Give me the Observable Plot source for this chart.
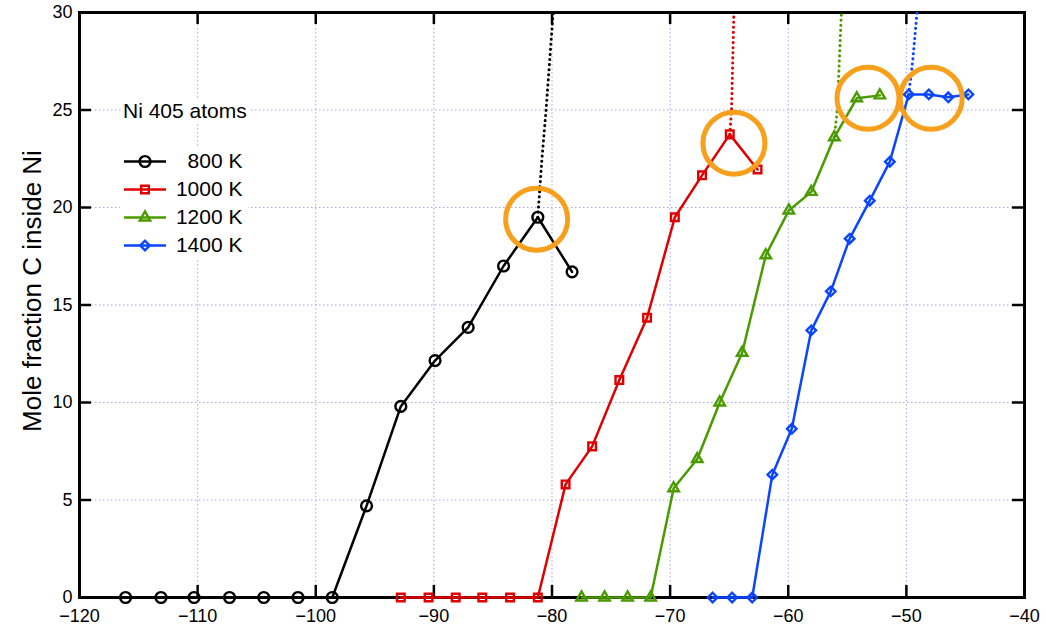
<!DOCTYPE html>
<html><head><meta charset="utf-8">
<script src="https://cdn.jsdelivr.net/npm/d3@7"></script>
<script src="https://cdn.jsdelivr.net/npm/@observablehq/plot@0.6"></script>
<style>
html,body{margin:0;padding:0;background:#fff;}
#wrap{position:relative;width:1046px;height:628px;font-family:"Liberation Sans",Arial,sans-serif;overflow:hidden;}
#legendTitle{position:absolute;left:121px;top:99px;font-size:21px;line-height:24px;color:#000;background:#fff;padding:0 2px;}
#legend{position:absolute;left:120px;top:147px;line-height:0;}
</style></head><body>
<div id="wrap"><div id="chart"></div><div id="legendTitle"></div><div id="legend"></div></div>
<script>
// ---- data ----
const seriesNames = ["800 K", "1000 K", "1200 K", "1400 K"];
const seriesColors = ["#000000", "#e00000", "#4a9b00", "#0a46ff"];
const seriesSymbols = ["circle", "square", "triangle2", "diamond2"];
const legendTitle = "Ni 405 atoms";
const yLabel = "Mole fraction C inside Ni";

const x800 = [-116.1, -113.1, -110.3, -107.3, -104.4, -101.5, -98.6, -95.7, -92.8, -89.9, -87.1, -84.1, -81.2, -78.3];
const y800 = [0, 0, 0, 0, 0, 0, 0, 4.7, 9.8, 12.15, 13.85, 17.0, 19.5, 16.7];
const x1000 = [-92.8, -90.45, -88.15, -85.9, -83.55, -81.2, -78.85, -76.6, -74.3, -71.95, -69.6, -67.3, -64.95, -62.6];
const y1000 = [0, 0, 0, 0, 0, 0, 5.8, 7.75, 11.15, 14.35, 19.5, 21.65, 23.75, 21.95];
const x1200 = [-77.5, -75.55, -73.6, -71.65, -69.7, -67.7, -65.8, -63.9, -61.9, -59.95, -58.05, -56.1, -54.2, -52.25];
const y1200 = [0, 0, 0, 0, 5.6, 7.1, 10.0, 12.55, 17.55, 19.85, 20.8, 23.6, 25.6, 25.75];
const x1400 = [-66.4, -64.75, -63.05, -61.35, -59.7, -58.05, -56.4, -54.8, -53.1, -51.4, -49.8, -48.1, -46.45, -44.75];
const y1400 = [0, 0, 0, 6.3, 8.65, 13.7, 15.7, 18.4, 20.35, 22.35, 25.8, 25.8, 25.65, 25.8];

// dotted extrapolations
const dx800 = [-81.2, -80.85, -80.5, -79.9];
const dy800 = [19.5, 22.5, 25, 30];
const dx1000 = [-64.95, -64.8, -64.6];
const dy1000 = [23.75, 25, 30];
const dx1200 = [-56.1, -55.85, -55.5];
const dy1200 = [23.6, 25, 30];
const dx1400 = [-49.8, -49.45, -49.1];
const dy1400 = [25.8, 27.6, 30];

// orange highlight circles
const circX = [-81.3, -64.6, -53.25, -47.9];
const circY = [19.4, 23.3, 25.6, 25.6];

const xTicks = [-120, -110, -100, -90, -80, -70, -60, -50, -40];
const yTicks = [0, 5, 10, 15, 20, 25, 30];

// ---- build tables ----
const xs = [x800, x1000, x1200, x1400], ys = [y800, y1000, y1200, y1400];
const dxs = [dx800, dx1000, dx1200, dx1400], dys = [dy800, dy1000, dy1200, dy1400];
const rows = [], dotRows = [];
seriesNames.forEach((s, i) => {
  xs[i].forEach((x, j) => rows.push({series: s, x, y: ys[i][j]}));
  dxs[i].forEach((x, j) => dotRows.push({series: s, x, y: dys[i][j]}));
});
const circles = circX.map((x, i) => ({x, y: circY[i]}));
const markerR = [5.4, 4.3, 5.0, 4.3];

const W = 1046, H = 628, ML = 79, MR = 22, MT = 12, MB = 31;
const fw = W - ML - MR, fh = H - MT - MB, tk = 12;
const font = "Liberation Sans, Arial, sans-serif";
const grid = {stroke: "#8c8cff", strokeOpacity: 0.8, strokeWidth: 1, strokeDasharray: "1.5,2.5"};
const innerX = xTicks.slice(1, -1), innerY = yTicks.slice(1, -1);

const chart = Plot.plot({
  width: W, height: H,
  marginLeft: ML, marginRight: MR, marginTop: MT, marginBottom: MB,
  x: {domain: [-120, -40]},
  y: {domain: [0, 30]},
  color: {domain: seriesNames, range: seriesColors},
  symbol: {domain: seriesNames, range: seriesSymbols},
  style: {fontFamily: font, color: "#000", background: "#fff", overflow: "visible"},
  marks: [
    Plot.gridX({ticks: innerX, ...grid}),
    Plot.gridY({ticks: innerY, ...grid}),
    Plot.frame({stroke: "#000", strokeWidth: 3}),
    Plot.tickX(innerX, {x: d => d, insetTop: fh - tk, stroke: "#000", strokeWidth: 2.5}),
    Plot.tickX(innerX, {x: d => d, insetBottom: fh - tk, stroke: "#000", strokeWidth: 2.5}),
    Plot.tickY(innerY, {y: d => d, insetRight: fw - tk, stroke: "#000", strokeWidth: 2.5}),
    Plot.tickY(innerY, {y: d => d, insetLeft: fw - tk, stroke: "#000", strokeWidth: 2.5}),
    Plot.axisX({ticks: xTicks, tickSize: 0, tickPadding: 12, fontSize: 18, label: null, fill: "#000"}),
    Plot.axisY({ticks: yTicks, tickSize: 0, tickPadding: 7, fontSize: 18, label: null, fill: "#000"}),
    Plot.text([yLabel], {frameAnchor: "left", textAnchor: "middle", lineAnchor: "middle", rotate: -90, dx: -47, dy: -14, fontSize: 26, fill: "#000"}),
    Plot.line(dotRows, {x: "x", y: "y", z: "series", stroke: "series", strokeWidth: 3, strokeDasharray: "0.1,5", strokeLinecap: "round", clip: true}),
    Plot.line(rows, {x: "x", y: "y", z: "series", stroke: "series", strokeWidth: 2.5}),
    ...seriesNames.map((s, i) => Plot.dot(rows.filter(d => d.series === s), {
      x: "x", y: "y", symbol: "series", stroke: "series", fill: "none", r: markerR[i], strokeWidth: 2.4
    })),
    Plot.dot(circles, {x: "x", y: "y", r: 31, stroke: "#f8a01c", strokeWidth: 5, fill: "none"})
  ]
});
document.getElementById("chart").appendChild(chart);

document.getElementById("legendTitle").textContent = legendTitle;
const legendRows = seriesNames.map(s => ({series: s}));
const legend = Plot.plot({
  width: 128, height: 112, margin: 0,
  x: {domain: [0, 128], range: [0, 128], axis: null},
  y: {type: "point", domain: seriesNames, range: [14, 98], padding: 0, axis: null},
  color: {domain: seriesNames, range: seriesColors},
  symbol: {domain: seriesNames, range: seriesSymbols},
  style: {fontFamily: font, background: "#fff", overflow: "visible"},
  marks: [
    Plot.ruleY(legendRows, {y: "series", x1: 4, x2: 46, stroke: "series", strokeWidth: 2.5}),
    ...seriesNames.map((s, i) => Plot.dot(legendRows.filter(d => d.series === s), {
      x: 24.5, y: "series", symbol: "series", stroke: "series", fill: "none", r: markerR[i], strokeWidth: 2.4
    })),
    Plot.text(legendRows, {x: 122, y: "series", text: "series", textAnchor: "end", fontSize: 21, fill: "#000"})
  ]
});
document.getElementById("legend").appendChild(legend);
</script>
</body></html>
